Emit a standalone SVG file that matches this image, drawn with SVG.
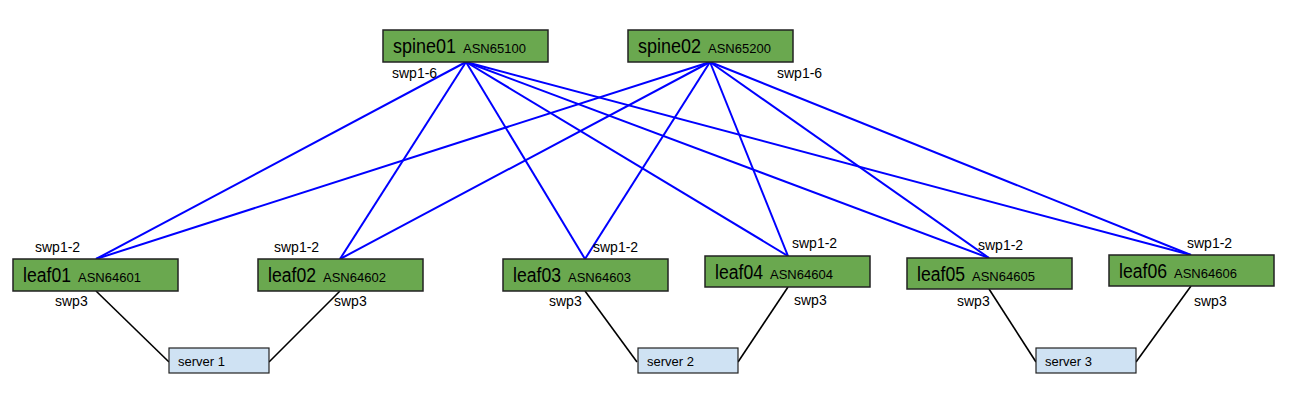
<svg xmlns="http://www.w3.org/2000/svg" width="1293" height="404" viewBox="0 0 1293 404">
<style>
text { font-family: "Liberation Sans", Arial, sans-serif; fill: #000; }
.sw { fill: #6aa84f; stroke: #222; stroke-width: 1.5; }
.srv { fill: #cfe2f3; stroke: #222; stroke-width: 1.2; }
.big { font-size: 20px; }
.asn { font-size: 13px; }
.lbl { font-size: 14px; }
.stxt { font-size: 13px; }
.blue line { stroke: #0000ff; stroke-width: 2; }
.blk line { stroke: #000; stroke-width: 1.6; }
</style>
<rect width="1293" height="404" fill="#fff"/>
<g id="connectors">
 <g class="blue">
  <line x1="466" y1="62" x2="96" y2="259"/>
  <line x1="466" y1="62" x2="340" y2="259"/>
  <line x1="466" y1="62" x2="585" y2="259"/>
  <line x1="466" y1="62" x2="788" y2="256"/>
  <line x1="466" y1="62" x2="989" y2="258"/>
  <line x1="466" y1="62" x2="1191" y2="255"/>
  <line x1="710" y1="62" x2="96" y2="259"/>
  <line x1="710" y1="62" x2="340" y2="259"/>
  <line x1="710" y1="62" x2="585" y2="259"/>
  <line x1="710" y1="62" x2="788" y2="256"/>
  <line x1="710" y1="62" x2="989" y2="258"/>
  <line x1="710" y1="62" x2="1191" y2="255"/>
 </g>
 <g class="blk">
  <line x1="96" y1="291" x2="169" y2="362"/>
  <line x1="340" y1="291" x2="269" y2="362"/>
  <line x1="585" y1="291" x2="637" y2="362"/>
  <line x1="788" y1="287" x2="738" y2="362"/>
  <line x1="989" y1="289" x2="1036" y2="362"/>
  <line x1="1191" y1="286" x2="1136" y2="362"/>
 </g>
</g>
<g id="spine01">
 <rect class="sw" x="383" y="30" width="165" height="32"/>
 <text class="big" x="393" y="53" textLength="63" lengthAdjust="spacingAndGlyphs">spine01</text>
 <text class="asn" x="463" y="53">ASN65100</text>
 <text class="lbl" x="392" y="78">swp1-6</text>
</g>
<g id="spine02">
 <rect class="sw" x="628" y="30" width="165" height="32"/>
 <text class="big" x="638" y="53" textLength="63" lengthAdjust="spacingAndGlyphs">spine02</text>
 <text class="asn" x="708" y="53">ASN65200</text>
 <text class="lbl" x="777" y="78">swp1-6</text>
</g>
<g id="leaf01">
 <rect class="sw" x="13" y="259" width="165" height="32"/>
 <text class="big" x="23" y="282" textLength="48" lengthAdjust="spacingAndGlyphs">leaf01</text>
 <text class="asn" x="78" y="282">ASN64601</text>
 <text class="lbl" x="35" y="252">swp1-2</text>
 <text class="lbl" x="55" y="306">swp3</text>
</g>
<g id="leaf02">
 <rect class="sw" x="258" y="259" width="165" height="32"/>
 <text class="big" x="268" y="282" textLength="48" lengthAdjust="spacingAndGlyphs">leaf02</text>
 <text class="asn" x="323" y="282">ASN64602</text>
 <text class="lbl" x="274" y="252">swp1-2</text>
 <text class="lbl" x="334" y="306">swp3</text>
</g>
<g id="leaf03">
 <rect class="sw" x="503" y="259" width="165" height="32"/>
 <text class="big" x="513" y="282" textLength="48" lengthAdjust="spacingAndGlyphs">leaf03</text>
 <text class="asn" x="568" y="282">ASN64603</text>
 <text class="lbl" x="593" y="252">swp1-2</text>
 <text class="lbl" x="549" y="306">swp3</text>
</g>
<g id="leaf04">
 <rect class="sw" x="705" y="256" width="165" height="31"/>
 <text class="big" x="715" y="279" textLength="48" lengthAdjust="spacingAndGlyphs">leaf04</text>
 <text class="asn" x="770" y="279">ASN64604</text>
 <text class="lbl" x="792" y="248">swp1-2</text>
 <text class="lbl" x="794" y="305">swp3</text>
</g>
<g id="leaf05">
 <rect class="sw" x="907" y="258" width="165" height="31"/>
 <text class="big" x="917" y="281" textLength="48" lengthAdjust="spacingAndGlyphs">leaf05</text>
 <text class="asn" x="972" y="281">ASN64605</text>
 <text class="lbl" x="978" y="250">swp1-2</text>
 <text class="lbl" x="957" y="306">swp3</text>
</g>
<g id="leaf06">
 <rect class="sw" x="1109" y="255" width="165" height="31"/>
 <text class="big" x="1119" y="278" textLength="48" lengthAdjust="spacingAndGlyphs">leaf06</text>
 <text class="asn" x="1174" y="278">ASN64606</text>
 <text class="lbl" x="1187" y="248">swp1-2</text>
 <text class="lbl" x="1194" y="306">swp3</text>
</g>
<g id="server1">
 <rect class="srv" x="169" y="348" width="100" height="25"/>
 <text class="stxt" x="178" y="366">server 1</text>
</g>
<g id="server2">
 <rect class="srv" x="638" y="348" width="100" height="25"/>
 <text class="stxt" x="647" y="366">server 2</text>
</g>
<g id="server3">
 <rect class="srv" x="1036" y="348" width="100" height="25"/>
 <text class="stxt" x="1045" y="366">server 3</text>
</g>
</svg>
